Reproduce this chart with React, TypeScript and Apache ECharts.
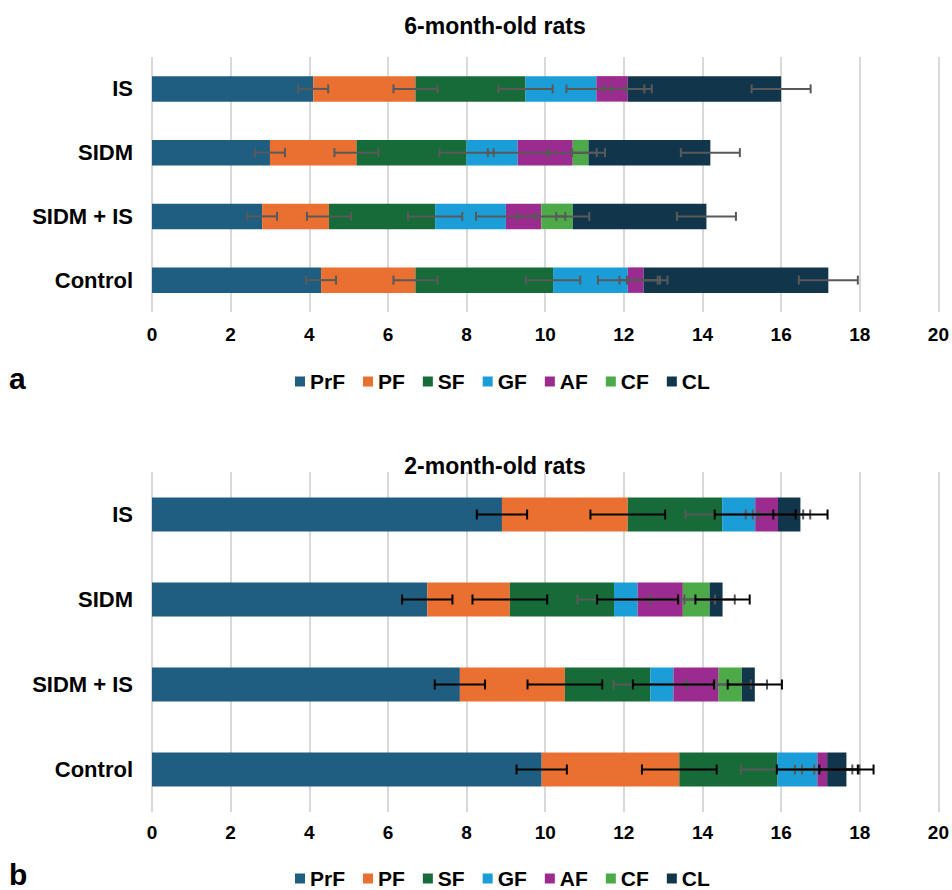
import React, { useEffect, useRef } from "react";
import * as echarts from "echarts";

const categories = ["IS", "SIDM", "SIDM + IS", "Control"];
const seriesNames = ["PrF", "PF", "SF", "GF", "AF", "CF", "CL"];
const seriesColors = ["#1F5E80", "#EA7031", "#176B38", "#1B9ED8", "#9C2B8F", "#4DAA49", "#11364B"];

// 6-month-old rats (values per category: IS, SIDM, SIDM + IS, Control)
const topPrF = [4.1, 3.0, 2.8, 4.3];
const topPF = [2.6, 2.2, 1.7, 2.4];
const topSF = [2.8, 2.8, 2.7, 3.5];
const topGF = [1.8, 1.3, 1.8, 1.9];
const topAF = [0.8, 1.4, 0.9, 0.4];
const topCF = [0, 0.4, 0.8, 0];
const topCL = [3.9, 3.1, 3.4, 4.7];
const topErrPrF = [0.38, 0.38, 0.38, 0.38];
const topErrPF = [0.56, 0.56, 0.56, 0.56];
const topErrSF = [0.69, 0.69, 0.69, 0.69];
const topErrGF = [0.76, 0.76, 0.76, 0.76];
const topErrAF = [0.61, 0.61, 0.61, 0.61];
const topErrCF = [0.42, 0.42, 0.42, 0.42];
const topErrCL = [0.75, 0.75, 0.75, 0.75];

// 2-month-old rats
const botPrF = [8.9, 7.0, 7.83, 9.91];
const botPF = [3.2, 2.1, 2.67, 3.5];
const botSF = [2.4, 2.65, 2.17, 2.5];
const botGF = [0.84, 0.6, 0.59, 1.01];
const botAF = [0.58, 1.15, 1.15, 0.25];
const botCF = [0, 0.68, 0.59, 0];
const botCL = [0.57, 0.33, 0.33, 0.49];
const botErrPrF = [0.64, 0.64, 0.64, 0.64];
const botErrPF = [0.95, 0.95, 0.95, 0.95];
const botErrSF = [0.93, 0.93, 0.93, 0.93];
const botErrGF = [1.03, 1.03, 1.03, 1.03];
const botErrAF = [0.82, 0.82, 0.82, 0.82];
const botErrCF = [0.64, 0.64, 0.64, 0.64];
const botErrCL = [0.69, 0.69, 0.69, 0.69];

const xTickMin = 0;
const xTickMax = 20;
const xTickStep = 2;

const FONT = "'Liberation Sans', Arial, Helvetica, sans-serif";
const GRAY = "#595959";
const BLACK = "#000000";

const topValues = [topPrF, topPF, topSF, topGF, topAF, topCF, topCL];
const topErrors = [topErrPrF, topErrPF, topErrSF, topErrGF, topErrAF, topErrCF, topErrCL];
const topErrColors = [GRAY, GRAY, GRAY, GRAY, GRAY, GRAY, GRAY];
const botValues = [botPrF, botPF, botSF, botGF, botAF, botCF, botCL];
const botErrors = [botErrPrF, botErrPF, botErrSF, botErrGF, botErrAF, botErrCF, botErrCL];
const botErrColors = [BLACK, BLACK, GRAY, BLACK, GRAY, GRAY, BLACK];

function buildSeries(values: number[][], errors: number[][], errColors: string[], axisIdx: number, stackName: string, capHalf: number) {
  const series: any[] = [];
  values.forEach((vals, si) => {
    series.push({
      name: seriesNames[si],
      type: "bar",
      stack: stackName,
      xAxisIndex: axisIdx,
      yAxisIndex: axisIdx,
      barWidth: "40%",
      itemStyle: { color: seriesColors[si] },
      data: vals,
      z: 2,
    });
  });
  const cum: number[][] = values.map(() => categories.map(() => 0));
  categories.forEach((_, ci) => {
    let s = 0;
    values.forEach((vals, si) => {
      s += vals[ci];
      cum[si][ci] = s;
    });
  });
  const order = values.map((_, i) => i).sort((a, b) => (errColors[a] === GRAY ? 0 : 1) - (errColors[b] === GRAY ? 0 : 1));
  order.forEach((si) => {
    const color = errColors[si];
    series.push({
      name: "err-" + stackName + "-" + seriesNames[si],
      type: "custom",
      xAxisIndex: axisIdx,
      yAxisIndex: axisIdx,
      z: 10,
      encode: { x: 0, y: 1 },
      data: categories.map((_, ci) => [cum[si][ci], ci, errors[si][ci]]),
      renderItem: (params: any, api: any) => {
        const x = api.value(0);
        const y = api.value(1);
        const e = api.value(2);
        const l = api.coord([x - e, y]);
        const r = api.coord([x + e, y]);
        const style = { stroke: color, lineWidth: 2 };
        return {
          type: "group",
          children: [
            { type: "line", shape: { x1: l[0], y1: l[1], x2: r[0], y2: r[1] }, style },
            { type: "line", shape: { x1: l[0], y1: l[1] - capHalf, x2: l[0], y2: l[1] + capHalf }, style },
            { type: "line", shape: { x1: r[0], y1: r[1] - capHalf, x2: r[0], y2: r[1] + capHalf }, style },
          ],
        };
      },
    });
  });
  return series;
}

function xAxisCfg(gridIndex: number, margin: number) {
  return {
    type: "value",
    gridIndex,
    min: xTickMin,
    max: xTickMax,
    interval: xTickStep,
    axisLine: { show: false },
    axisTick: { show: false },
    splitLine: { show: true, lineStyle: { color: "#d9d9d9", width: 2 } },
    axisLabel: { fontFamily: FONT, fontWeight: "bold", fontSize: 19, color: "#000", margin },
  };
}

function yAxisCfg(gridIndex: number) {
  return {
    type: "category",
    gridIndex,
    inverse: true,
    data: categories,
    axisLine: { show: false },
    axisTick: { show: false },
    axisLabel: { fontFamily: FONT, fontWeight: "bold", fontSize: 22, color: "#000", margin: 19 },
  };
}

function legendCfg(top: number) {
  return {
    data: seriesNames,
    left: 290,
    top,
    icon: "rect",
    itemWidth: 10,
    itemHeight: 10,
    itemGap: 18,
    selectedMode: false,
    textStyle: { fontFamily: FONT, fontWeight: "bold", fontSize: 21, color: "#000" },
  };
}

export default function App() {
  const ref = useRef<HTMLDivElement>(null);
  useEffect(() => {
    if (!ref.current) return;
    const chart = echarts.init(ref.current, null, { renderer: "svg" });
    const option: any = {
      animation: false,
      backgroundColor: "#ffffff",
      grid: [
        { left: 152, right: 13, top: 57, height: 255 },
        { left: 152, right: 13, top: 472, height: 340 },
      ],
      xAxis: [xAxisCfg(0, 13), xAxisCfg(1, 11)],
      yAxis: [yAxisCfg(0), yAxisCfg(1)],
      legend: [legendCfg(366), legendCfg(863)],
      graphic: [
        { type: "text", x: 495, y: 26, style: { text: "6-month-old rats", fill: "#000", font: "bold 23px " + FONT, textAlign: "center", textVerticalAlign: "middle" } },
        { type: "text", x: 495, y: 466, style: { text: "2-month-old rats", fill: "#000", font: "bold 23px " + FONT, textAlign: "center", textVerticalAlign: "middle" } },
        { type: "text", x: 9, y: 378, style: { text: "a", fill: "#000", font: "bold 30px " + FONT, textAlign: "left", textVerticalAlign: "middle" } },
        { type: "text", x: 9, y: 874, style: { text: "b", fill: "#000", font: "bold 30px " + FONT, textAlign: "left", textVerticalAlign: "middle" } },
      ],
      series: [
        ...buildSeries(topValues, topErrors, topErrColors, 0, "top", 4.5),
        ...buildSeries(botValues, botErrors, botErrColors, 1, "bottom", 5),
      ],
    };
    chart.setOption(option);
    return () => chart.dispose();
  }, []);
  return <div ref={ref} style={{ position: "absolute", left: 0, top: 0, width: 952, height: 890 }} />;
}
